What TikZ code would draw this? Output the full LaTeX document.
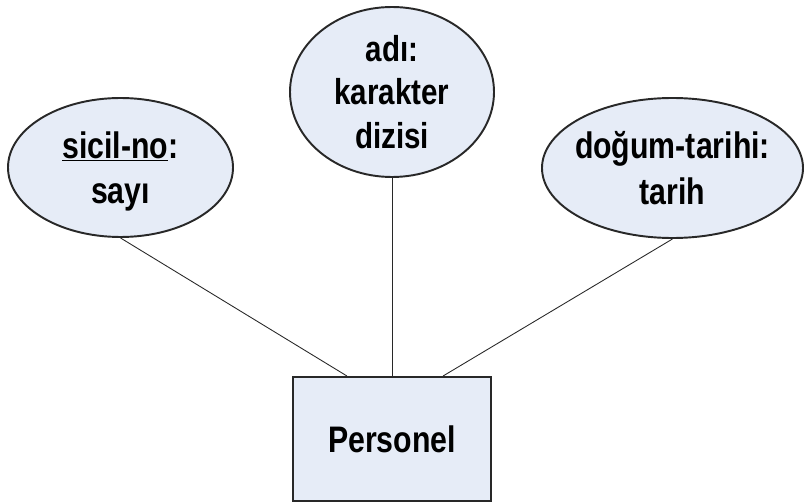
\documentclass[tikz,border=0pt]{standalone}
\usepackage{fontspec}
\setmainfont{Liberation Sans}[FakeStretch=0.82]
\usepackage{tikz}
\usetikzlibrary{shapes.geometric, positioning, calc}
\definecolor{cFill}{RGB}{230,236,247}
\definecolor{cEdge}{RGB}{40,40,40}
\tikzset{
	attr/.style  ={ellipse, draw=cEdge, line width=1.1pt, fill=cFill, align=center, inner sep=0pt},
	entity/.style={rectangle, draw=cEdge, line width=1.1pt, fill=cFill, align=center, minimum width=3.96cm, minimum height=2.48cm},
	link/.style  ={draw=cEdge, line width=0.5pt},
}

\begin{document}
\begin{tikzpicture}[font=\fontsize{21}{26}\selectfont\bfseries]
	\useasboundingbox (0,0) rectangle (16.08,10.04);
	\node[attr, minimum width=4.5cm, minimum height=2.78cm, text depth=0pt] (sicil) at (2.41,6.69) {\underline{sicil-no}:\\sayı};
	\node[attr, minimum width=4.08cm, minimum height=3.4cm, font=\fontsize{20.5}{24.8}\selectfont\bfseries] (adi) at (7.84,8.2) {adı:\\karakter\\dizisi};
	\node[attr, minimum width=5.22cm, minimum height=2.8cm, inner xsep=-0.45cm] (dogum) at (13.45,6.68) {doğum-tarihi:\\tarih};
	\node[entity] (pers) at (7.84,1.26) {Personel};
	\coordinate (pL) at ([xshift=-0.9cm]pers.north);
	\coordinate (pR) at ([xshift=1.02cm]pers.north);
	\draw[link] (sicil.south) -- (pL);
	\draw[link] (adi.south) -- (adi.south |- pers.north);
	\draw[link] (dogum.south) -- (pR);
\end{tikzpicture}
\end{document}
